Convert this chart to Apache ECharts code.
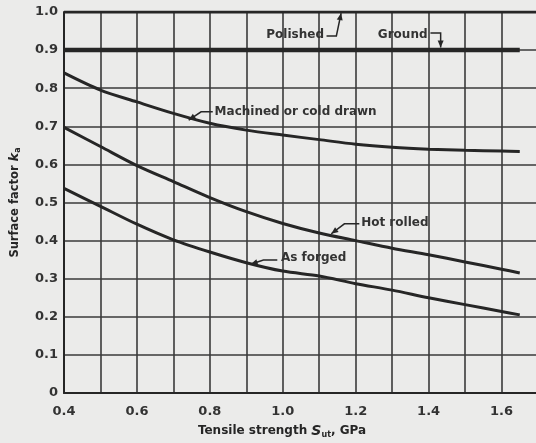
<!DOCTYPE html>
<html><head><meta charset="utf-8">
<script src="https://cdn.jsdelivr.net/npm/echarts@6/dist/echarts.min.js"></script>
<style>html,body{margin:0;padding:0;background:#ebebea;}#c{width:536px;height:443px;}</style>
</head><body><div id="c"></div>
<script>
// Tensile strength S_ut (GPa)
const strength = [0.4, 0.5, 0.6, 0.7, 0.8, 0.9, 1.0, 1.1, 1.2, 1.3, 1.4, 1.5, 1.6, 1.65];
// Surface factor k_a
const machined  = [0.84, 0.795, 0.764, 0.734, 0.708, 0.69, 0.677, 0.665, 0.653, 0.645, 0.64, 0.637, 0.635, 0.634];
const hotRolled = [0.697, 0.647, 0.597, 0.555, 0.513, 0.476, 0.445, 0.42, 0.4, 0.38, 0.363, 0.344, 0.325, 0.315];
const asForged  = [0.537, 0.49, 0.443, 0.402, 0.37, 0.342, 0.32, 0.307, 0.287, 0.27, 0.25, 0.232, 0.214, 0.205];
const groundX = [0.4, 1.65];
const groundK = [0.9, 0.9];
const polishedX = [0.4, 1.7];
const polishedK = [1.0, 1.0];

const xTicks = ['0.4', '0.6', '0.8', '1.0', '1.2', '1.4', '1.6'];
const yTicks = ['0', '0.1', '0.2', '0.3', '0.4', '0.5', '0.6', '0.7', '0.8', '0.9', '1.0'];

// Callout labels: text, anchor [x, k], alignment, leader path in data units
const calloutText  = ['Polished', 'Ground', 'Machined or cold drawn', 'Hot rolled', 'As forged'];
const calloutAt    = [[1.113, 0.94], [1.397, 0.94], [0.813, 0.738], [1.215, 0.446], [0.995, 0.354]];
const calloutAlign = ['right', 'right', 'left', 'left', 'left'];
const calloutPath  = [
  [[1.12, 0.937], [1.147, 0.937], [1.16, 0.997]],
  [[1.405, 0.945], [1.433, 0.945], [1.433, 0.907]],
  [[0.808, 0.738], [0.776, 0.738], [0.742, 0.716]],
  [[1.21, 0.444], [1.169, 0.444], [1.133, 0.418]],
  [[0.985, 0.349], [0.947, 0.349], [0.912, 0.338]]
];

const FONT = 'DejaVu Sans';
const INK = '#262626';
const zip = (xs, ys) => xs.map((x, i) => [x, ys[i]]);

const chart = echarts.init(document.getElementById('c'), null, {renderer: 'canvas'});
const curve = (name, data, w) => ({
  name, type: 'line', data, smooth: 0.3, showSymbol: false, symbol: 'none',
  lineStyle: {color: INK, width: w}, z: 5, silent: true
});
chart.setOption({
  animation: false,
  backgroundColor: '#ebebea',
  grid: {left: 64, right: -2, top: 12, bottom: 50, containLabel: false, outerBoundsMode: 'none'},
  xAxis: {
    type: 'value', min: 0.4, max: 1.7, interval: 0.1,
    name: 'Tensile strength {i|S}{sub|ut}, GPa',
    nameLocation: 'middle', nameGap: 30,
    nameTextStyle: {fontFamily: FONT, fontSize: 12, fontWeight: 'bold', color: INK, padding: [0, 38, 0, 0],
      rich: {i: {fontFamily: FONT, fontSize: 14, fontStyle: 'italic', fontWeight: 'bold', color: INK},
             sub: {fontFamily: FONT, fontSize: 8, fontWeight: 'bold', color: INK, padding: [8, 0, 0, 0]}}},
    axisLine: {show: true, lineStyle: {color: INK, width: 2}},
    axisTick: {show: false},
    axisLabel: {fontFamily: FONT, fontSize: 13, fontWeight: 'bold', color: '#333', margin: 12,
      formatter: v => { const s = v.toFixed(1); return xTicks.includes(s) ? s : ''; }},
    splitLine: {show: true, lineStyle: {color: '#3a3a3a', width: 1.6}}
  },
  yAxis: {
    type: 'value', min: 0, max: 1, interval: 0.1,
    name: 'Surface factor {i|k}{sub|a}',
    nameLocation: 'middle', nameGap: 42,
    nameTextStyle: {fontFamily: FONT, fontSize: 11.5, fontWeight: 'bold', color: INK,
      rich: {i: {fontFamily: FONT, fontSize: 13, fontStyle: 'italic', fontWeight: 'bold', color: INK},
             sub: {fontFamily: FONT, fontSize: 8, fontWeight: 'bold', color: INK, padding: [6, 0, 0, 0]}}},
    axisLine: {show: true, lineStyle: {color: INK, width: 2}},
    axisTick: {show: false},
    axisLabel: {fontFamily: FONT, fontSize: 13, fontWeight: 'bold', color: '#333', margin: 6,
      formatter: v => { const i = Math.round(v * 10); return yTicks[i] !== undefined ? yTicks[i] : ''; }},
    splitLine: {show: true, lineStyle: {color: '#3a3a3a', width: 1.6}}
  },
  series: [
    curve('Polished', zip(polishedX, polishedK), 3),
    curve('Ground', zip(groundX, groundK), 4.5),
    curve('Machined or cold drawn', zip(strength, machined), 3),
    curve('Hot rolled', zip(strength, hotRolled), 3),
    curve('As forged', zip(strength, asForged), 3)
  ]
});

// Build callouts from data coordinates
const px = p => chart.convertToPixel({gridIndex: 0}, p);
const graphics = [];
calloutText.forEach((t, i) => {
  const a = px(calloutAt[i]);
  graphics.push({type: 'text', x: a[0], y: a[1], z: 10,
    style: {text: t, fontFamily: FONT, fontSize: 12, fontWeight: 'bold', fill: '#333',
            align: calloutAlign[i], verticalAlign: 'middle'}});
  const pts = calloutPath[i].map(px);
  graphics.push({type: 'polyline', z: 10, shape: {points: pts},
    style: {stroke: INK, lineWidth: 1.5, fill: null}});
  const tip = pts[pts.length - 1], prev = pts[pts.length - 2];
  const dx = tip[0] - prev[0], dy = tip[1] - prev[1];
  const L = Math.hypot(dx, dy) || 1, ux = dx / L, uy = dy / L;
  const len = 7, hw = 3;
  const bx = tip[0] - ux * len, by = tip[1] - uy * len;
  graphics.push({type: 'polygon', z: 10, shape: {points: [tip, [bx - uy * hw, by + ux * hw], [bx + uy * hw, by - ux * hw]]},
    style: {fill: INK}});
});
chart.setOption({graphic: graphics});
</script>
</body></html>
